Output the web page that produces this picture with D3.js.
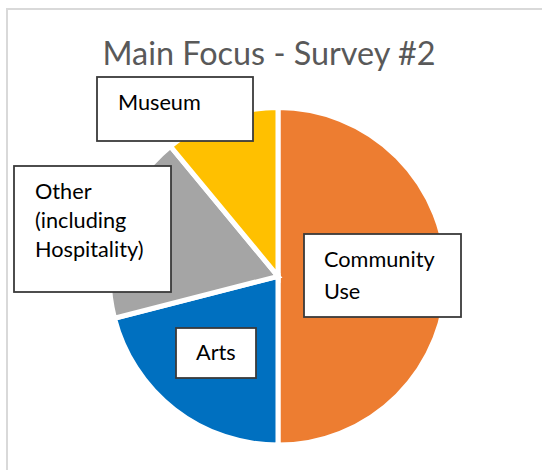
<!DOCTYPE html>
<html>
<head>
<meta charset="utf-8">
<script src="https://cdn.jsdelivr.net/npm/d3@7/dist/d3.min.js"></script>
<style>
  html, body { margin: 0; padding: 0; background: #fff; }
  svg { display: block; }
</style>
</head>
<body>
<svg id="chart" width="542" height="470"></svg>
<script>
const categories = ["Community Use", "Arts", "Other (including Hospitality)", "Museum"];
const values = [50, 21, 18, 11];
const colors = ["#ED7D31", "#0070C0", "#A5A5A5", "#FFC000"];
const labelLines = [["Community", "Use"], ["Arts"], ["Other", "(including", "Hospitality)"], ["Museum"]];
const title = "Main Focus - Survey #2";

// label box layout (x, y, w, h, text x, first baseline, line gap)
const boxes = [
  {x: 304, y: 234, w: 157, h: 83, tx: 324, ty: 267, gap: 32},
  {x: 176, y: 328, w: 80, h: 50, tx: 196, ty: 360, gap: 0},
  {x: 14, y: 166, w: 157, h: 126, tx: 35, ty: 199, gap: 29},
  {x: 97, y: 77, w: 156, h: 64, tx: 118, ty: 110, gap: 0}
];

const svg = d3.select("#chart");
const font = "Lato, 'Open Sans', sans-serif";

// outer chart border
svg.append("rect")
  .attr("x", 7).attr("y", 9).attr("width", 560).attr("height", 480)
  .attr("fill", "none").attr("stroke", "#d9d9d9").attr("stroke-width", 2);

// title
svg.append("text")
  .attr("x", 269).attr("y", 65)
  .attr("text-anchor", "middle")
  .attr("font-family", font)
  .attr("font-size", 32.4)
  .attr("fill", "#595959")
  .text(title);

const cx = 278, cy = 276.3, r = 168.8;
const pie = d3.pie().sort(null).startAngle(0).endAngle(2 * Math.PI);
const arc = d3.arc().innerRadius(0).outerRadius(r);
const data = categories.map((c, i) => ({name: c, value: values[i], color: colors[i]}));
const arcs = pie.value(d => d.value)(data);

const g = svg.append("g").attr("transform", `translate(${cx},${cy})`);
g.selectAll("path")
  .data(arcs)
  .join("path")
  .attr("d", arc)
  .attr("fill", d => d.data.color)
  .attr("stroke", "#fff")
  .attr("stroke-width", 5)
  .attr("stroke-linejoin", "miter");

// labels
const lg = svg.append("g");
categories.forEach((c, i) => {
  const b = boxes[i];
  lg.append("rect")
    .attr("x", b.x).attr("y", b.y).attr("width", b.w).attr("height", b.h)
    .attr("fill", "#fff").attr("stroke", "#3a3a3a").attr("stroke-width", 1.8);
  labelLines[i].forEach((line, j) => {
    lg.append("text")
      .attr("x", b.tx).attr("y", b.ty + j * b.gap)
      .attr("font-family", font)
      .attr("font-size", 21.7)
      .attr("fill", "#000")
      .text(line);
  });
});
</script>
</body>
</html>
